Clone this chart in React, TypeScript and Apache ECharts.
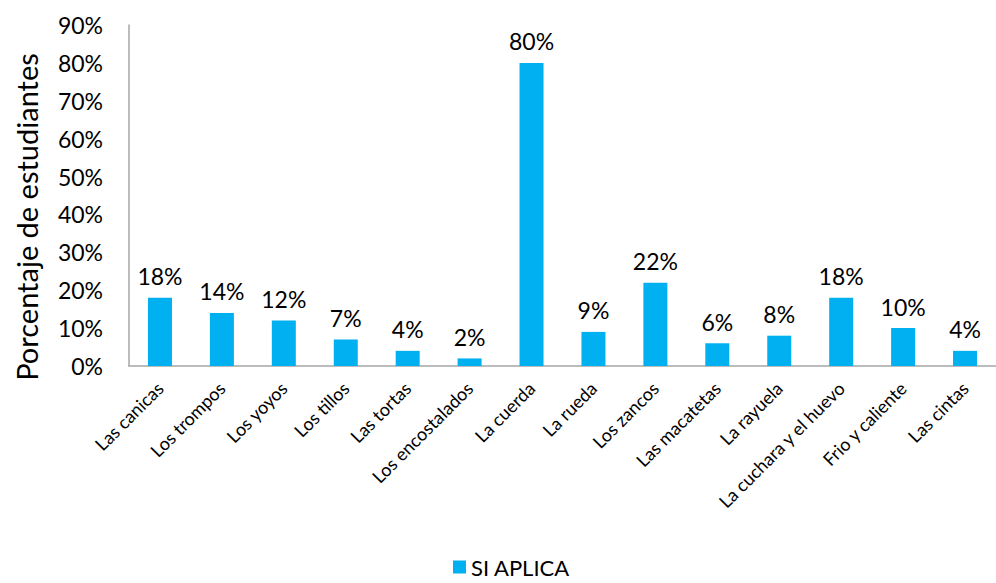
import React, { useEffect, useRef } from "react";
import * as echarts from "echarts";

const categories = [
  "Las canicas",
  "Los trompos",
  "Los yoyos",
  "Los tillos",
  "Las tortas",
  "Los encostalados",
  "La cuerda",
  "La rueda",
  "Los zancos",
  "Las macatetas",
  "La rayuela",
  "La cuchara y el huevo",
  "Frio y caliente",
  "Las cintas",
];
const siAplica = [18, 14, 12, 7, 4, 2, 80, 9, 22, 6, 8, 18, 10, 4];
const seriesName = "SI APLICA";
const yAxisName = "Porcentaje de estudiantes";

const FONT = "Lato, 'Open Sans', sans-serif";

export default function App() {
  const ref = useRef<HTMLDivElement>(null);
  useEffect(() => {
    if (!ref.current) return;
    const chart = echarts.init(ref.current, null, { renderer: "svg" });
    chart.setOption({
      animation: false,
      backgroundColor: "#ffffff",
      textStyle: { fontFamily: FONT },
      grid: { left: 129, top: 25, width: 878, height: 341 },
      legend: {
        bottom: 0,
        left: 448,
        itemWidth: 13,
        itemHeight: 13,
        itemGap: 8,
        icon: "rect",
        textStyle: { fontSize: 22, color: "#000", fontFamily: FONT },
        data: [seriesName],
      },
      graphic: [
        {
          type: "text",
          x: 26,
          y: 217,
          rotation: Math.PI / 2,
          style: {
            text: yAxisName,
            fontSize: 29,
            fontFamily: FONT,
            fill: "#000",
            textAlign: "center",
            textVerticalAlign: "middle",
          },
        },
      ],
      xAxis: {
        type: "category",
        data: categories,
        axisLine: { lineStyle: { color: "#a6a6a6", width: 1.5 } },
        axisTick: { show: false },
        axisLabel: {
          rotate: 45,
          interval: 0,
          fontSize: 18,
          color: "#000",
          margin: 19,
          fontFamily: FONT,
        },
      },
      yAxis: {
        type: "value",
        min: 0,
        max: 90,
        interval: 10,
        axisLine: { show: true, lineStyle: { color: "#a6a6a6", width: 1.5 } },
        axisTick: { show: false },
        splitLine: { show: false },
        axisLabel: {
          formatter: "{value}%",
          fontSize: 23,
          color: "#000",
          margin: 26,
          fontFamily: FONT,
        },
      },
      series: [
        {
          name: seriesName,
          type: "bar",
          data: siAplica,
          barWidth: 24,
          itemStyle: { color: "#00b0f0" },
          label: {
            show: true,
            position: "top",
            distance: 10,
            formatter: "{c}%",
            fontSize: 23,
            color: "#000",
            fontFamily: FONT,
          },
        },
      ],
    });
    return () => chart.dispose();
  }, []);
  return <div ref={ref} style={{ width: 996, height: 583, position: "absolute", left: 0, top: 0 }} />;
}
